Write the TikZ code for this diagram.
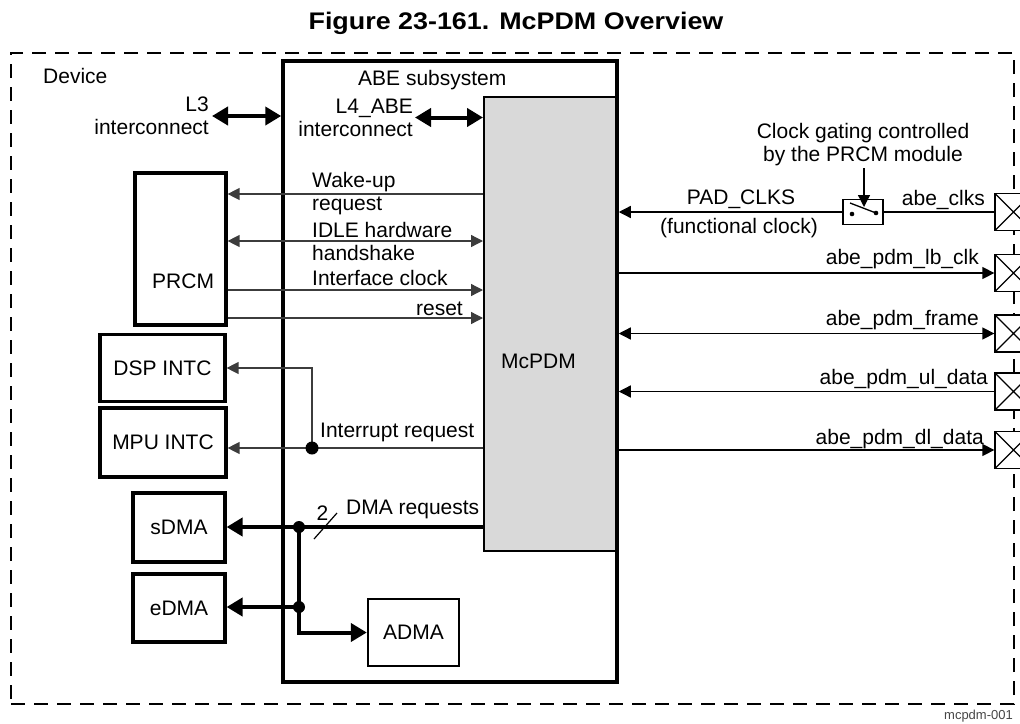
\documentclass[tikz,border=0pt]{standalone}
\usepackage{fontspec}
\setmainfont{Liberation Sans}
\newfontfamily\titlefont{Liberation Sans}[FakeStretch=1.12]
\usetikzlibrary{arrows.meta, positioning}
\definecolor{blockgray}{RGB}{217,217,217}
\definecolor{wiregray}{RGB}{60,60,60}
\definecolor{notegray}{RGB}{70,70,70}

\begin{document}
\begin{tikzpicture}[x=1pt, y=-1pt,
    lbl/.style={font=\fontsize{21}{23}\selectfont, inner sep=0pt},
    block/.style={draw, line width=3.2pt, inner sep=0pt, font=\fontsize{21}{23}\selectfont},
    pad/.style={draw, fill=white, line width=1.3pt, minimum width=37pt, minimum height=37pt, inner sep=0pt,
      path picture={\draw[line width=1.3pt] (path picture bounding box.north west) -- (path picture bounding box.south east)
        (path picture bounding box.south west) -- (path picture bounding box.north east);}},
    wire/.style={wiregray, line width=1.3pt},
    thinarrow/.style={-{Triangle[length=12pt, width=12pt]}, line width=1.3pt},
    thinboth/.style={{Triangle[length=12pt, width=12pt]}-{Triangle[length=12pt, width=12pt]}, line width=1.3pt},
    busarrow/.style={-{Triangle[length=16pt, width=18pt]}, line width=4pt},
    busboth/.style={{Triangle[length=16pt, width=18pt]}-{Triangle[length=16pt, width=18pt]}, line width=4pt},
  ]
    \useasboundingbox (0,0) rectangle (1020,723);
    \clip (0,0) rectangle (1020,723);

    \node[font=\titlefont\bfseries\fontsize{24}{27}\selectfont, anchor=base] (title) at (516,29) {Figure 23-161. McPDM Overview};

    % device and ABE subsystem
    \node[draw, dash pattern=on 14pt off 9pt, line width=2pt, minimum width=1003pt, minimum height=651pt, inner sep=0pt] (device) at (512.5,378.5) {};
    \node[lbl, anchor=base west] (devicetxt) at (43,83) {Device};
    \node[draw, fill=blockgray, line width=2pt, minimum width=133pt, minimum height=454pt, inner sep=0pt] (mcpdm) at (550.5,324) {};
    \node[block, line width=3.5pt, minimum width=334pt, minimum height=621pt] (abe) at (450,371.5) {};
    \node[lbl, anchor=base west] (abetxt) at (358,85) {ABE subsystem};
    \node[lbl, anchor=base west] (mcpdmtxt) at (501,368) {McPDM};

    % blocks on the left
    \node[block, minimum width=91pt, minimum height=152pt] (prcm) at (180.5,249) {};
    \node[lbl, anchor=base west] (prcmtxt) at (152,288) {PRCM};
    \node[block, minimum width=125pt, minimum height=67pt] (dsp) at (162.5,368) {DSP INTC};
    \node[block, minimum width=126pt, minimum height=69pt] (mpu) at (163,442.5) {MPU INTC};
    \node[block, minimum width=92pt, minimum height=69pt] (sdma) at (179,527.5) {sDMA};
    \node[block, minimum width=92pt, minimum height=68pt] (edma) at (179,608) {eDMA};
    \node[block, line width=2.4pt, minimum width=91pt, minimum height=67pt] (adma) at (413.5,632.5) {ADMA};

    % interconnects
    \node[lbl, align=right, anchor=east, inner xsep=3pt] (l3) at (212,116) {L3\\interconnect};
    \draw[busboth] (l3.east) -- (l3.east -| abe.west);
    \node[lbl, align=right, anchor=east, inner xsep=2pt] (l4) at (415,117.5) {L4\_ABE\\interconnect};
    \draw[busboth] (l4.east) -- (l4.east -| mcpdm.west);

    % PRCM signals
    \node[lbl, align=left, anchor=west] (waketxt) at (312,194) {Wake-up\\request};
    \draw[wire, thinarrow] (mcpdm.west |- waketxt.west) -- (prcm.east |- waketxt.west);
    \node[lbl, align=left, anchor=west] (idletxt) at (312,241) {IDLE hardware\\handshake};
    \draw[wire, thinboth] (prcm.east |- idletxt.west) -- (mcpdm.west |- idletxt.west);
    \node[lbl, anchor=base west] (ifclktxt) at (312,285) {Interface clock};
    \draw[wire, thinarrow] (prcm.east |- 0,290) -- (mcpdm.west |- 0,290);
    \node[lbl, anchor=base east] (resettxt) at (463,315) {reset};
    \draw[wire, thinarrow] (prcm.east |- 0,318) -- (mcpdm.west |- 0,318);

    % interrupt
    \coordinate (irqdot) at (312,448);
    \node[lbl, anchor=base west] (irqtxt) at (320,437) {Interrupt request};
    \draw[wire, thinarrow] (mcpdm.west |- irqdot) -- (mpu.east |- irqdot);
    \draw[wire, thinarrow] (irqdot) |- (dsp.east);
    \fill (irqdot) circle (6.5pt);

    % DMA requests
    \coordinate (dmadot) at (299,527);
    \coordinate (edmadot) at (299,607);
    \draw[busarrow] (mcpdm.west |- dmadot) -- (sdma.east |- dmadot);
    \draw[busarrow] (dmadot) |- (adma.west);
    \draw[busarrow] (edmadot) -- (edma.east |- edmadot);
    \fill (dmadot) circle (6pt);
    \fill (edmadot) circle (6pt);
    \draw[line width=1.2pt] (314,539) -- (337,513);
    \node[lbl] (buswidth) at (322.5,513.5) {2};
    \node[lbl, anchor=base west] (dmatxt) at (346,514) {DMA requests};

    % pads
    \foreach \y [count=\i] in {212,273,333.5,391.5,450}
      \node[pad] (pad\i) at (1013.5,\y) {};

    % clock gating
    \node[draw, line width=1.3pt, minimum width=40pt, minimum height=25pt, inner sep=0pt] (switch) at (863,212) {};
    \fill (852,214) circle (2.3pt);
    \fill (876,213) circle (2.3pt);
    \draw[line width=1.3pt] (850,203) -- (876,213);
    \coordinate (blade) at (864,207);
    \node[lbl, align=center, anchor=south, inner sep=2pt] (gating) at (863,168) {Clock gating controlled\\by the PRCM module};
    \draw[thinarrow] (gating.south -| blade) -- (blade);
    \draw[line width=1.3pt] (pad1.west) -- (switch.east |- pad1.west);
    \draw[thinarrow] (switch.west |- pad1.west) -- (abe.east |- pad1.west);
    \node[lbl, anchor=base] (padclks) at (741,204) {PAD\_CLKS};
    \node[lbl, anchor=base] (fclk) at (739,233) {(functional clock)};
    \node[lbl, anchor=base east] (clkstxt) at (985,205) {abe\_clks};

    % pad signals
    \draw[thinarrow] (abe.east |- pad2) -- (pad2.west);
    \node[lbl, anchor=base east] (lbclktxt) at (979,264) {abe\_pdm\_lb\_clk};
    \draw[thinboth] (abe.east |- pad3) -- (pad3.west);
    \node[lbl, anchor=base east] (frametxt) at (979,325) {abe\_pdm\_frame};
    \draw[thinarrow] (pad4.west) -- (abe.east |- pad4);
    \node[lbl, anchor=base east] (ultxt) at (988,384) {abe\_pdm\_ul\_data};
    \draw[thinarrow] (abe.east |- pad5) -- (pad5.west);
    \node[lbl, anchor=base east] (dltxt) at (984,444) {abe\_pdm\_dl\_data};

    \node[lbl, font=\fontsize{13}{15}\selectfont, text=notegray, anchor=base east] (figid) at (1013,719) {mcpdm-001};
  \end{tikzpicture}
\end{document}
